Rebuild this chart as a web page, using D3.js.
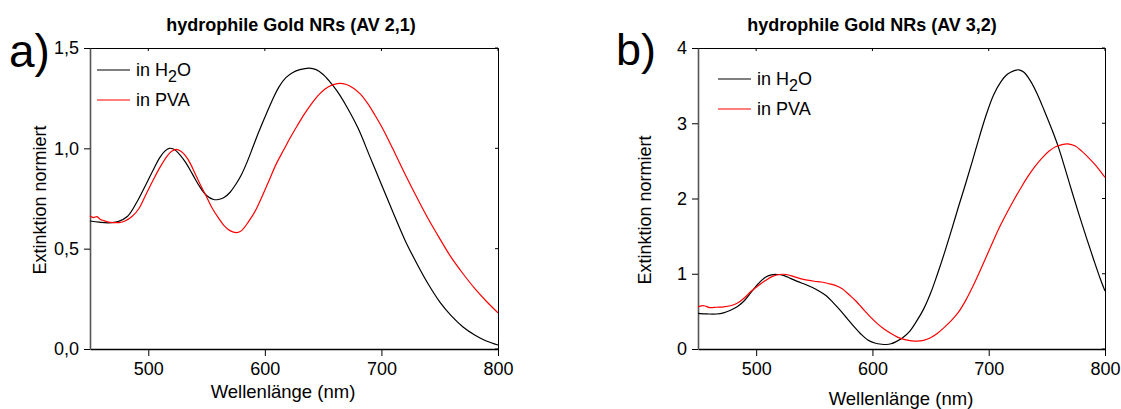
<!DOCTYPE html>
<html><head><meta charset="utf-8">
<script src="https://cdn.jsdelivr.net/npm/d3@7"></script>
<style>
html,body{margin:0;padding:0;background:#fff;}
svg{display:block;font-family:"Liberation Sans",Arial,Helvetica,sans-serif;}
</style></head>
<body>
<svg id="chart" width="1121" height="409"></svg>
<script>
// ---------- Data ----------
const xTicks = [500, 600, 700, 800];
const xTickLabels = ["500", "600", "700", "800"];

const yTicksA = [0, 0.5, 1.0, 1.5];
const yTickLabelsA = ["0,0", "0,5", "1,0", "1,5"];
const yTicksB = [0, 1, 2, 3, 4];
const yTickLabelsB = ["0", "1", "2", "3", "4"];

const titles = ["hydrophile Gold NRs (AV 2,1)", "hydrophile Gold NRs (AV 3,2)"];
const panelLetters = ["a)", "b)"];
const seriesNames = ["in H2O", "in PVA"];

// Panel a – in H2O
const wlA_h2o = [450,458,466,474,482,490,498,504,510,514,518,522,526,532,538,544,550,556,560,565,570,575,580,585,590,595,600,606,612,618,624,630,638,644,650,656,662,670,680,690,700,710,720,730,740,750,760,770,780,790,800];
const extA_h2o = [0.638,0.632,0.629,0.635,0.66,0.73,0.82,0.89,0.955,0.985,1.0,0.995,0.975,0.93,0.87,0.81,0.765,0.745,0.745,0.755,0.78,0.82,0.87,0.935,1.01,1.085,1.155,1.235,1.305,1.352,1.378,1.392,1.40,1.392,1.368,1.33,1.285,1.21,1.10,0.96,0.82,0.68,0.545,0.43,0.325,0.235,0.165,0.11,0.07,0.04,0.02];
// Panel a – in PVA
const wlA_pva = [450,453,456,459,462,466,470,475,480,486,492,498,504,510,516,520,524,528,532,536,540,545,549,555,560,565,570,576,580,586,592,598,604,610,616,622,628,634,640,646,652,658,664,670,676,682,688,694,700,710,720,730,740,750,760,770,780,790,800];
const extA_pva = [0.663,0.655,0.66,0.645,0.64,0.632,0.63,0.63,0.638,0.66,0.70,0.77,0.84,0.905,0.96,0.985,0.995,0.985,0.962,0.925,0.876,0.815,0.77,0.70,0.655,0.615,0.59,0.58,0.59,0.635,0.69,0.765,0.845,0.925,0.99,1.055,1.115,1.172,1.222,1.265,1.297,1.316,1.324,1.318,1.30,1.27,1.225,1.17,1.11,0.995,0.875,0.76,0.65,0.55,0.455,0.375,0.302,0.238,0.18];

// Panel b – in H2O
const wlB_h2o = [450,458,466,472,478,484,490,496,502,508,513,518,524,530,536,542,548,554,560,566,572,578,584,590,596,602,608,612,616,620,626,632,638,644,650,656,662,668,674,680,686,692,698,704,710,716,722,726,730,736,742,748,754,760,766,772,778,784,790,796,800];
const extB_h2o = [0.474,0.466,0.465,0.48,0.515,0.565,0.645,0.76,0.87,0.955,0.985,0.99,0.975,0.935,0.895,0.86,0.82,0.77,0.71,0.62,0.52,0.41,0.30,0.20,0.12,0.08,0.063,0.06,0.07,0.095,0.15,0.235,0.37,0.53,0.74,1.0,1.28,1.58,1.89,2.19,2.5,2.82,3.12,3.37,3.54,3.65,3.70,3.71,3.68,3.56,3.38,3.16,2.93,2.68,2.38,2.07,1.77,1.48,1.2,0.93,0.77];
// Panel b – in PVA
const wlB_pva = [450,455,460,466,472,478,484,490,496,502,508,514,520,526,532,538,544,550,556,562,568,574,580,586,592,598,604,610,616,622,628,634,638,644,650,656,662,668,674,680,686,692,698,704,710,716,722,728,734,740,746,752,758,764,768,774,780,786,792,800];
const extB_pva = [0.56,0.575,0.55,0.555,0.56,0.575,0.61,0.68,0.77,0.845,0.91,0.965,0.99,0.99,0.965,0.935,0.915,0.9,0.89,0.87,0.845,0.8,0.72,0.635,0.53,0.43,0.34,0.265,0.205,0.155,0.125,0.108,0.105,0.115,0.15,0.21,0.29,0.38,0.49,0.64,0.82,1.02,1.23,1.44,1.64,1.82,1.99,2.15,2.3,2.43,2.54,2.63,2.69,2.72,2.725,2.70,2.63,2.54,2.44,2.28];

const seriesColors = ["#000000", "#ff0000"];

// ---------- Layout ----------
const svg = d3.select("#chart");
const FONT = '"Liberation Sans", Arial, Helvetica, sans-serif';

const panels = [
  {
    left: 90, right: 498, top: 48, bottom: 349,
    yDomain: [0, 1.5], yTicks: yTicksA, yLabels: yTickLabelsA,
    series: [[wlA_h2o, extA_h2o], [wlA_pva, extA_pva]],
    title: titles[0], titleX: 291, titleY: 31,
    letter: panelLetters[0], letterX: 9, letterY: 67, letterSize: 46,
    legendX: 97, legendY: [70, 100],
    xLabelX: 283, xLabelY: 398, yLabelX: 46, yLabelY: 200
  },
  {
    left: 698, right: 1105, top: 48, bottom: 349,
    yDomain: [0, 4], yTicks: yTicksB, yLabels: yTickLabelsB,
    series: [[wlB_h2o, extB_h2o], [wlB_pva, extB_pva]],
    title: titles[1], titleX: 872, titleY: 31,
    letter: panelLetters[1], letterX: 616, letterY: 65, letterSize: 45,
    legendX: 718, legendY: [79, 109],
    xLabelX: 901, xLabelY: 405, yLabelX: 651, yLabelY: 210
  }
];

panels.forEach(p => {
  const x = d3.scaleLinear().domain([450, 800]).range([p.left, p.right]);
  const y = d3.scaleLinear().domain(p.yDomain).range([p.bottom, p.top]);
  const g = svg.append("g");

  // frame (top & right)
  g.append("path")
    .attr("d", `M${p.left},${p.top + 0.5}H${p.right + 0.5}V${p.bottom}`)
    .attr("fill", "none").attr("stroke", "#000").attr("stroke-width", 1);

  // mirror ticks inside on top and right
  xTicks.forEach(t => {
    g.append("line").attr("x1", x(t)).attr("x2", x(t))
      .attr("y1", p.top).attr("y2", p.top + 3)
      .attr("stroke", "#000").attr("stroke-width", 1);
  });
  p.yTicks.forEach(t => {
    g.append("line").attr("x1", p.right).attr("x2", p.right - 3)
      .attr("y1", y(t)).attr("y2", y(t))
      .attr("stroke", "#000").attr("stroke-width", 1);
  });

  // bottom axis
  const xAxis = d3.axisBottom(x).tickValues(xTicks)
    .tickFormat((d, i) => xTickLabels[i]).tickSize(7).tickPadding(6).tickSizeOuter(0);
  const gx = g.append("g").attr("transform", `translate(0,${p.bottom})`).call(xAxis);
  gx.select(".domain").attr("stroke", "#000").attr("stroke-width", 1.3);
  gx.selectAll(".tick line").attr("stroke", "#000").attr("stroke-width", 1);
  gx.selectAll("text").attr("font-family", FONT).attr("font-size", 18).attr("fill", "#000");

  // left axis
  const yAxis = d3.axisLeft(y).tickValues(p.yTicks)
    .tickFormat((d, i) => p.yLabels[i]).tickSize(6).tickPadding(5).tickSizeOuter(0);
  const gy = g.append("g").attr("transform", `translate(${p.left},0)`).call(yAxis);
  gy.select(".domain").attr("stroke", "#555").attr("stroke-width", 1.6);
  gy.selectAll(".tick line").attr("stroke", "#000").attr("stroke-width", 1);
  gy.selectAll("text").attr("font-family", FONT).attr("font-size", 18).attr("fill", "#000");

  // curves
  const line = d3.line()
    .x(d => x(d[0])).y(d => y(d[1]))
    .curve(d3.curveCatmullRom.alpha(0.5));
  p.series.forEach((s, i) => {
    const pts = s[0].map((w, k) => [w, s[1][k]]);
    g.append("path").datum(pts)
      .attr("d", line)
      .attr("fill", "none")
      .attr("stroke", seriesColors[i])
      .attr("stroke-width", 1.2);
  });

  // legend
  seriesNames.forEach((name, i) => {
    const ly = p.legendY[i];
    g.append("line").attr("x1", p.legendX).attr("x2", p.legendX + 33)
      .attr("y1", ly).attr("y2", ly)
      .attr("stroke", seriesColors[i]).attr("stroke-width", 1.2);
    const t = g.append("text").attr("x", p.legendX + 39).attr("y", ly + 6)
      .attr("font-family", FONT).attr("font-size", 18).attr("fill", "#000");
    if (name === "in H2O") {
      t.append("tspan").text("in H");
      t.append("tspan").text("2").attr("font-size", 16).attr("dy", 6);
      t.append("tspan").text("O").attr("dy", -6);
    } else {
      t.text(name);
    }
  });

  // title
  g.append("text").attr("x", p.titleX).attr("y", p.titleY)
    .attr("text-anchor", "middle").attr("font-family", FONT)
    .attr("font-weight", "bold").attr("font-size", 18).attr("fill", "#000")
    .text(p.title);

  // panel letter
  g.append("text").attr("x", p.letterX).attr("y", p.letterY)
    .attr("font-family", FONT).attr("font-size", p.letterSize).attr("fill", "#000")
    .text(p.letter);

  // axis labels
  g.append("text").attr("x", p.xLabelX).attr("y", p.xLabelY)
    .attr("text-anchor", "middle").attr("font-family", FONT)
    .attr("font-size", 18.5).attr("fill", "#000")
    .text("Wellenlänge (nm)");
  g.append("text")
    .attr("transform", `translate(${p.yLabelX},${p.yLabelY}) rotate(-90)`)
    .attr("text-anchor", "middle").attr("font-family", FONT)
    .attr("font-size", 18).attr("fill", "#000")
    .text("Extinktion normiert");
});
</script>
</body></html>
